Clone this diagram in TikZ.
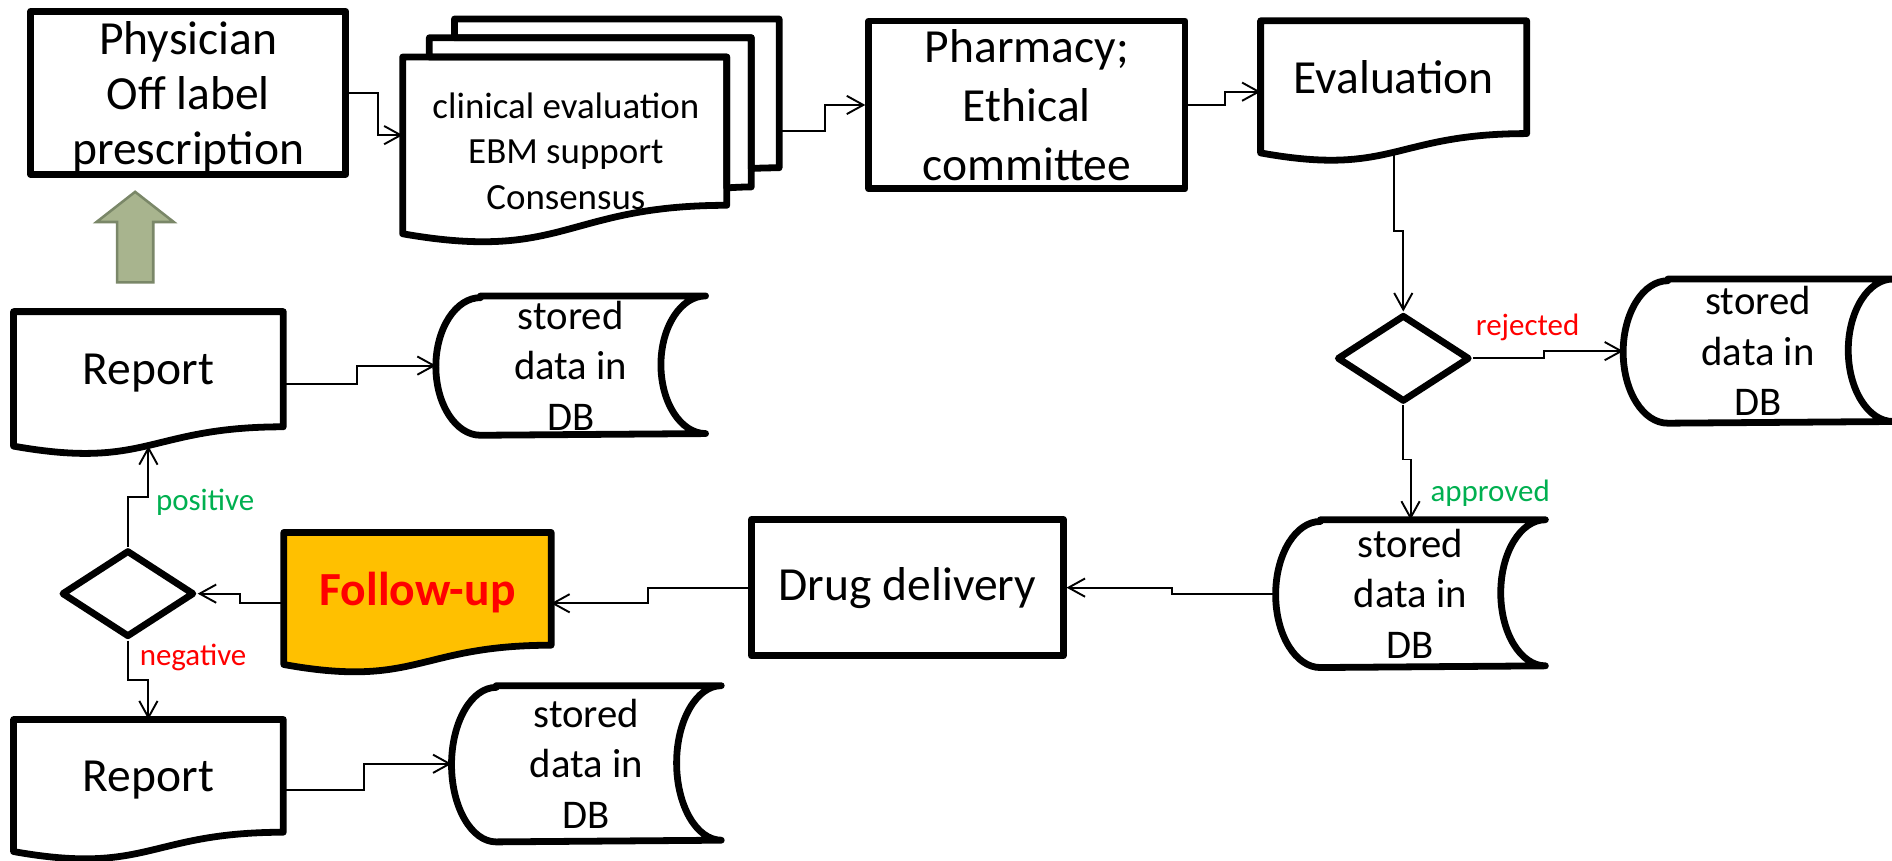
\documentclass[tikz,border=0pt]{standalone}
\usepackage{fontspec}
\setmainfont{Carlito}
\usepackage{xcolor}
\usetikzlibrary{shapes.geometric, arrows.meta, calc, backgrounds}
\definecolor{fupfill}{RGB}{255,192,0}
\definecolor{okgreen}{RGB}{0,176,80}
\definecolor{nored}{RGB}{255,0,0}
\definecolor{arrowfill}{RGB}{168,180,142}
\definecolor{arrowline}{RGB}{122,135,104}
\newcommand{\bigtxt}{\fontsize{11.2}{13.9}\selectfont}
\newcommand{\dbtxt}{\fontsize{9.6}{11.9}\selectfont}
\newcommand{\cltxt}{\fontsize{8.7}{10.7}\selectfont}
\newcommand{\lbltxt}{\fontsize{7.3}{8.8}\selectfont}

\tikzset{
  outline/.style={line width=1.6pt, line join=round},
  box/.style={rectangle, draw, outline, align=center, inner sep=0pt, font=\bigtxt},
  doc/.style={rectangle, align=center, inner sep=0pt, text depth=0pt, font=\bigtxt},
  db/.style={rectangle, align=center, inner sep=0pt, minimum width=2.22cm, font=\dbtxt},
  decision/.style={diamond, draw, outline, inner sep=0pt, minimum width=1.1cm, minimum height=0.72cm},
  flow/.style={line width=0.45pt, -{Straight Barb[length=3.9pt, width=4.3pt]}},
  lbl/.style={font=\lbltxt, inner sep=0pt},
}

% document shape: wave under the node
\newcommand{\docshape}[2][white]{%
  \draw[outline, fill=#1] (#2.north west) -- (#2.north east) -- (#2.south east)
    .. controls ($(#2.south west)!0.5!(#2.south east)$) and ($(#2.south west)!0.5!(#2.south east)+(0,36)$)
    .. ($(#2.south west)+(0,16)$) -- cycle;
  \coordinate (#2-b) at ($(#2.south)+(0,16)$);
  \coordinate (#2-l) at ($(#2.west)+(0,12)$);
  \coordinate (#2-r) at ($(#2.east)+(0,12)$);}

% stored data shape
\newcommand{\dbshape}[2]{%
  \draw[outline] ($(#1.north west)+(37,0)$) -- (#1.north east)
    arc[start angle=90, end angle=270, x radius=0.37cm, y radius=#2]
    -- ($(#1.south west)+(37,0)$)
    arc[start angle=270, end angle=90, x radius=0.37cm, y radius=#2] -- cycle;}

\begin{document}
\begin{tikzpicture}[x=0.01cm, y=-0.01cm]
\useasboundingbox (0,0) rectangle (1568,713);

% Nodes
\node[box, font=\fontsize{11.2}{12.9}\selectfont, text depth=0pt, minimum width=2.61cm, minimum height=1.35cm] (phys) at (156,77) {Physician\\Off label\\prescription};
\node[doc, font=\cltxt, minimum width=2.69cm, minimum height=1.54cm] (clin) at (469,125) {clinical evaluation\\EBM support\\Consensus};
\node[box, minimum width=2.62cm, minimum height=1.39cm] (pharm) at (851,87) {Pharmacy;\\Ethical\\committee};
\node[doc, minimum width=2.19cm, minimum height=0.92cm] (eval) at (1155,64) {Evaluation};
\node[decision] (dec1) at (1163,297) {};
\node[db, minimum height=1.18cm] (dbr) at (1457,291) {stored\\data in\\DB};
\node[db, minimum height=1.21cm] (dba) at (1169,492) {stored\\data in\\DB};
\node[box, minimum width=2.58cm, minimum height=1.13cm] (drug) at (752,487) {Drug delivery};
\node[doc, minimum width=2.20cm, minimum height=0.92cm, text=nored, font=\bigtxt\bfseries] (fup) at (346,488) {Follow-up};
\node[decision] (dec2) at (106,492) {};
\node[doc, minimum width=2.22cm, minimum height=0.94cm] (rep1) at (123,306) {Report};
\node[db, minimum height=1.14cm] (db1) at (473,303) {stored\\data in\\DB};
\node[doc, minimum width=2.22cm, minimum height=0.92cm] (rep2) at (123,643) {Report};
\node[db, minimum height=1.28cm] (db2) at (486,633) {stored\\data in\\DB};

% Shapes
\begin{scope}[on background layer]
\fill[white] (0,0) rectangle (1568,713);
\docshape{eval}
\docshape[fupfill]{fup}
\docshape{rep1}
\docshape{rep2}
\dbshape{dbr}{0.59cm}
\dbshape{dba}{0.605cm}
\dbshape{db1}{0.57cm}
\dbshape{db2}{0.64cm}
\begin{scope}[shift={($(clin.north west)+(0,-31.5)$)}]
\draw[outline] (0,178) .. controls (134.3,201.6) and (134.3,154.4) .. (268.6,154.4) -- (268.6,31.5) -- (0,31.5) -- cycle;
\draw[outline] (22.1,31.5) -- (22.1,15.5) -- (288.9,15.5) -- (288.9,139.2) .. controls (278.7,139.2) and (268.6,140) .. (268.6,140) -- (268.6,31.5) -- cycle;
\draw[outline] (42.9,15.5) -- (42.9,0) -- (312,0) -- (312,123.3) .. controls (300.5,123.3) and (288.9,123.9) .. (288.9,123.9) -- (288.9,15.5) -- cycle;
\coordinate (clin-r) at (312,92.5);
\end{scope}
\draw[arrowline, fill=arrowfill, line width=0.6pt] (97,234) -- (97,184) -- (80,184) -- (112,159) -- (144,184) -- (127,184) -- (127,234) -- cycle;
\end{scope}

% Edges
\draw[flow] (phys.east) -- ++(24,0) |- ([yshift=0.13cm]clin.west);
\draw[flow] (clin-r) -- ++(38,0) |- (pharm.west);
\draw[flow] (pharm.east) -- ++(30,0) |- (eval-l);
\draw[flow] (eval-b) -- ++(0,65) -| (dec1.north);
\draw[flow] (dec1.east) -- ++(59,0) |- (dbr.west);
\draw[flow] (dec1.south) -- ++(0,45) -| (dba.north);
\draw[flow] (dba.west) -- ++(-86,0) |- (drug.east);
\draw[flow] (drug.west) -- ++(-83,0) |- (fup-r);
\draw[flow] (fup-l) -- ++(-36,0) |- (dec2.east);
\draw[flow] (dec2.north) -- ++(0,-41) -| (rep1-b);
\draw[flow] (dec2.south) -- ++(0,33) -| (rep2.north);
\draw[flow] (rep1-r) -- ++(61,0) |- (db1.west);
\draw[flow] (rep2-r) -- ++(67,0) |- (db2.west);

% Labels
\node[lbl, text=nored] (lrej) at (1266,271) {rejected};
\node[lbl, text=okgreen] (lapp) at (1235,409) {approved};
\node[lbl, text=okgreen] (lpos) at (170,416) {positive};
\node[lbl, text=nored] (lneg) at (160,545) {negative};
\end{tikzpicture}
\end{document}
